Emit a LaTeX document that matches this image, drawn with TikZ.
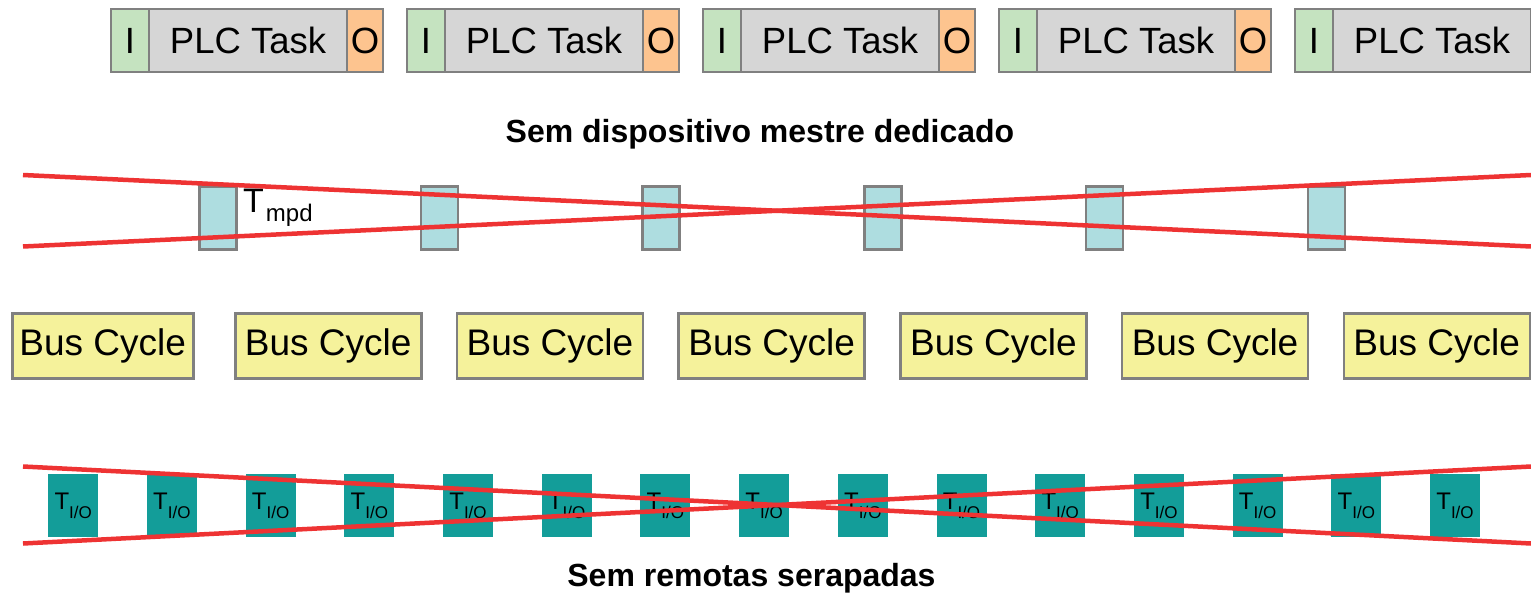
\documentclass[tikz,border=0pt]{standalone}
\usepackage{fontspec}
\setmainfont{Liberation Sans}
\usetikzlibrary{positioning}

\definecolor{incol}{HTML}{C5E3C0}
\definecolor{taskcol}{HTML}{D6D6D6}
\definecolor{outcol}{HTML}{FDC48F}
\definecolor{mpdcol}{HTML}{AEDDE0}
\definecolor{buscol}{HTML}{F5F29B}
\definecolor{iocol}{HTML}{139D99}
\definecolor{crosscol}{HTML}{EE3333}
\definecolor{framecol}{HTML}{808080}

\begin{document}
\begin{tikzpicture}[x=1pt,y=-1pt,
		cell/.style={draw=framecol,line width=2.5pt,inner sep=0pt,outer sep=0pt,minimum height=63pt,font=\fontsize{36.5}{40}\selectfont},
		in cell/.style={cell,fill=incol,minimum width=38pt},
		task cell/.style={cell,fill=taskcol,minimum width=198pt},
		out cell/.style={cell,fill=outcol,minimum width=36pt},
		mpd box/.style={draw=framecol,line width=2.5pt,fill=mpdcol,minimum width=37pt,minimum height=63pt,inner sep=0pt},
		bus box/.style={draw=framecol,line width=2.5pt,fill=buscol,minimum width=186pt,minimum height=65pt,inner sep=0pt,font=\fontsize{37}{40}\selectfont},
		bus tab/.style={fill=framecol,minimum width=19pt,minimum height=10pt,inner sep=0pt},
		io box/.style={fill=iocol,minimum width=50pt,minimum height=63pt,inner sep=0pt,font=\fontsize{24}{26}\selectfont},
		cross/.style={draw=crosscol,line width=4.5pt},
		caption/.style={font=\fontsize{32}{36}\selectfont\bfseries}]

	\useasboundingbox (0,0) rectangle (1531,594);

	% PLC tasks
	\foreach \i in {0,...,4}{
		\node[in cell,anchor=north west] (in\i) at (111+296*\i,9) {I};
		\node[task cell,right=0pt of in\i] (task\i) {PLC Task};
	}
	\foreach \i in {0,...,3}
		\node[out cell,right=0pt of task\i] (out\i) {O};

	\node[caption,anchor=base] (master) at (760,142.5) {Sem dispositivo mestre dedicado};

	% T_mpd
	\foreach \i in {0,...,5}
		\node[mpd box,anchor=north west] (mpd\i) at (198+221.7*\i,185) {};
	\node[anchor=base west,inner sep=0pt] (mpdlabel) at (243,212)
		{\fontsize{34}{36}\selectfont T\kern2pt\raisebox{-9pt}{\fontsize{24}{24}\selectfont mpd}};

	\coordinate (mpdA) at (23,175);
	\coordinate (mpdB) at (1531,246.5);
	\coordinate (mpdC) at (23,246.5);
	\coordinate (mpdD) at (1531,175);
	\draw[cross] (mpdA) -- (mpdB);
	\draw[cross] (mpdC) -- (mpdD);

	% bus cycles
	\node[bus tab] (tab0) at (103,375) {};
	\foreach \i in {1,...,6}
		\node[bus tab] (tab\i) at (331+221.75*\i-221.75,375) {};
	\node[bus box,minimum width=181pt,anchor=north west] (bus0) at (11,312) {Bus Cycle};
	\foreach \i in {1,...,6}
		\node[bus box,anchor=north west] (bus\i) at (234+221.7*\i-221.7,312) {Bus Cycle};

	% remote I/O
	\foreach \i in {0,...,14}
		\node[io box,anchor=north west] (io\i) at (48+98.7*\i,474)
			{T\raisebox{-9pt}{\fontsize{17}{17}\selectfont I/O}};

	\coordinate (ioA) at (23,466.5);
	\coordinate (ioB) at (1531,543.5);
	\coordinate (ioC) at (23,543.5);
	\coordinate (ioD) at (1531,466.5);
	\draw[cross] (ioA) -- (ioB);
	\draw[cross] (ioC) -- (ioD);

	\node[caption,anchor=base] (remote) at (751.5,586.5) {Sem remotas serapadas};
\end{tikzpicture}
\end{document}
